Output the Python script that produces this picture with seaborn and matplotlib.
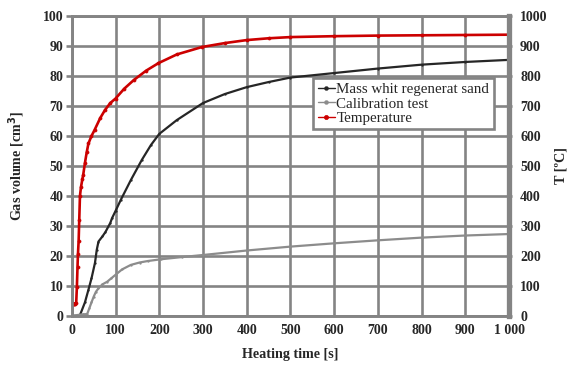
import numpy as np
import pandas as pd
import matplotlib
matplotlib.use("Agg")
import matplotlib.pyplot as plt
import seaborn as sns

# -----------------------------
# data
# -----------------------------
mass_time = [0, 18, 30, 38, 45, 53, 57, 61, 70, 77, 88, 92, 100, 112, 135, 160, 181, 200, 240, 300,
             350, 400, 450, 500, 600, 700, 800, 900, 1000]
mass_vol = [0, 0, 4.5, 8.7, 12.5, 17.7, 22, 24.8, 26.5, 28, 31, 32.6, 35, 38.7, 45.3, 52, 57, 60.7, 65.3, 71,
            74, 76.3, 78, 79.5, 81, 82.5, 83.8, 84.7, 85.4]

calib_time = [0, 14, 25, 35, 40, 45, 50, 55, 61, 70, 81, 90, 100, 115, 135, 155, 174, 205, 251, 300,
              400, 500, 600, 700, 800, 900, 1000]
calib_vol = [0, 0.3, 0.5, 0.6, 2.5, 4.5, 6.4, 8, 9.2, 10.5, 11.4, 12.5, 13.7, 15.5, 17, 17.8, 18.3, 18.9, 19.6, 20.3,
             21.8, 23.1, 24.2, 25.2, 26.1, 26.8, 27.3]

temp_time = [0, 2, 4, 6, 8, 10, 11.6, 13, 14, 15.6, 17, 18.6, 21, 24, 26, 30, 34, 38, 45, 52, 65, 76, 88, 100,
             120, 142, 170, 198, 240, 298, 350, 400, 450, 500, 600, 700, 800, 900, 1000]
temp_val = [41, 41, 41, 41, 41, 43, 97, 163, 205, 250, 320, 400, 430, 455, 470, 510, 545, 575, 600, 620, 660, 687,
            710, 725, 758, 787, 818, 843, 872, 897, 910, 920, 926, 930, 933, 935, 936, 937, 938]

series_labels = ["Mass whit regenerat sand", "Calibration test", "Temperature"]
x_ticks = list(range(0, 1001, 100))
x_tick_labels = [str(v) for v in range(0, 901, 100)] + ["1 000"]
y_ticks = list(range(0, 101, 10))
t_ticks = list(range(0, 1001, 100))

# -----------------------------
# style
# -----------------------------
sns.set_style("white")
plt.rcParams["font.family"] = ["Liberation Serif", "DejaVu Serif"]
plt.rcParams["font.weight"] = "bold"

grid_col = "#848484"
black_col = "#262626"
gray_col = "#8c8c8c"
red_col = "#cc0000"

fig = plt.figure(figsize=(5.7, 3.66), dpi=100)
ax = fig.add_axes([0.126, 0.137, 0.767, 0.819])
ax2 = ax.twinx()

sns.lineplot(x=mass_time, y=mass_vol, ax=ax, color=black_col, linewidth=1.6, marker="o",
             markersize=1.4, markeredgecolor=black_col, markerfacecolor=black_col, markeredgewidth=0.2,
             sort=False, label=series_labels[0], legend=False)
sns.lineplot(x=calib_time, y=calib_vol, ax=ax, color=gray_col, linewidth=1.6, marker="o",
             markersize=1.4, markeredgecolor=gray_col, markerfacecolor=gray_col, markeredgewidth=0.2,
             sort=False, label=series_labels[1], legend=False)
sns.lineplot(x=temp_time, y=temp_val, ax=ax2, color=red_col, linewidth=1.9, marker="o",
             markersize=2.2, markeredgecolor=red_col, markerfacecolor=red_col, markeredgewidth=0.5,
             sort=False, label=series_labels[2], legend=False)

ax.set_xlim(0, 1000)
ax.set_ylim(0, 100)
ax2.set_ylim(0, 1000)
ax.set_xticks(x_ticks)
ax.set_xticklabels(x_tick_labels)
ax.set_yticks(y_ticks)
ax2.set_yticks(t_ticks)

ax.grid(True, color=grid_col, linewidth=1.9)
ax.set_axisbelow(True)
ax2.grid(False)

for a in (ax, ax2):
    for s in a.spines.values():
        s.set_color(grid_col)
        s.set_linewidth(1.9)
ax2.spines["right"].set_linewidth(3.8)

ax.tick_params(axis="both", which="major", labelsize=10, color=grid_col, width=1.9, length=4, pad=2)
ax2.tick_params(axis="y", labelsize=10, color=grid_col, width=1.9, length=2, pad=6)
for lab in ax.get_xticklabels() + ax.get_yticklabels() + ax2.get_yticklabels():
    lab.set_fontweight("bold")

ax.set_xlabel("Heating time [s]", fontsize=10.2, fontweight="bold")
ax.set_ylabel("Gas volume [cm$^\\mathbf{3}$]", fontsize=10.2, fontweight="bold")
ax2.set_ylabel("T [ºC]", fontsize=10.2, fontweight="bold")
ax.xaxis.set_label_coords(0.5, -0.108)
ax.yaxis.set_label_coords(-0.102, 0.5)
ax2.yaxis.set_label_coords(1.105, 0.5)

h1, l1 = ax.get_legend_handles_labels()
h2, l2 = ax2.get_legend_handles_labels()
leg = ax2.legend(h1 + h2, l1 + l2, loc="upper left", bbox_to_anchor=(0.552, 0.792),
                 frameon=True, fancybox=False, framealpha=1, edgecolor=grid_col,
                 prop={"family": "Liberation Serif", "size": 10.8, "weight": "normal"},
                 handlelength=1.15, handletextpad=0.1, labelspacing=0.05, borderpad=0.3,
                 borderaxespad=0)
leg.get_frame().set_linewidth(1.9)
for line in leg.get_lines():
    line.set_linewidth(1.0)
    line.set_markersize(3)

fig.savefig("out.png", dpi=100)
